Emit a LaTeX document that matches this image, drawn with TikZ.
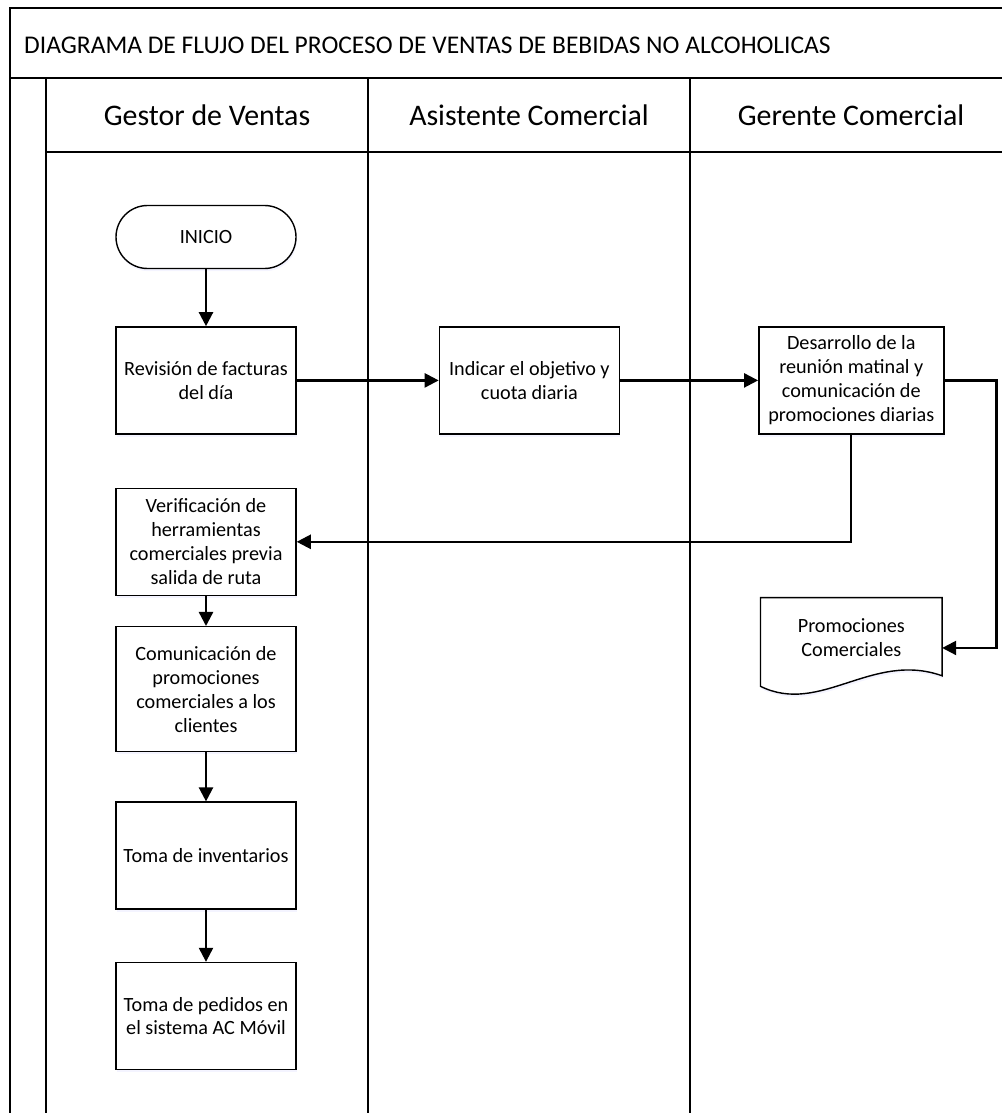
\documentclass[tikz,border=0pt]{standalone}
\usepackage{fontspec}
\setmainfont{Carlito}
\usetikzlibrary{calc, positioning, arrows.meta, shadows, backgrounds}

\begin{document}
\begin{tikzpicture}[>={Triangle[length=8pt,width=8pt]}, node distance=1cm, every node/.style={font=\fontsize{11.5}{13.6}\selectfont}]
  \tikzset{block/.style={draw, line width=0.8pt, fill=white, minimum width=3.6cm, minimum height=2.14cm, align=center, inner sep=2pt,
      drop shadow={shadow xshift=0.5pt, shadow yshift=-1.5pt, opacity=0.3, fill=blue!15}},
    term/.style={block, rounded corners=0.63cm, minimum height=1.26cm},
    flow/.style={->, line width=1.3pt},
    frame/.style={line width=1.1pt},
    lane/.style={font=\fontsize{17}{20}\selectfont}}
  \useasboundingbox (0,0) rectangle (20.04,-22.26);
  \clip (0,0) rectangle (20.04,-22.26);

  % pool and lanes
  \draw[frame] (0.2,-22.6) |- (20.6,-0.16);
  \draw[frame] (0.2,-1.56) -- (20.6,-1.56);
  \draw[frame] (0.92,-3.04) -- (20.6,-3.04);
  \foreach \x in {0.92, 7.36, 13.8}
    \draw[frame] (\x,-1.56) -- (\x,-22.6);
  \node[anchor=west, font=\fontsize{14.5}{17}\selectfont] (titulo) at (0.36,-0.9) {DIAGRAMA DE FLUJO DEL PROCESO DE VENTAS DE BEBIDAS NO ALCOHOLICAS};
  \node[lane] (gestor) at (4.14,-2.3) {Gestor de Ventas};
  \node[lane] (asist) at (10.58,-2.3) {Asistente Comercial};
  \node[lane] (gerente) at (17.02,-2.3) {Gerente Comercial};

  % steps
  \node[term] (inicio) at (4.12,-4.74) {INICIO};
  \node[block, below=1.14cm of inicio] (revision) {Revisión de facturas\\del día};
  \node[block, right=2.84cm of revision] (objetivo) {Indicar el objetivo y\\cuota diaria};
  \node[block, right=2.76cm of objetivo, minimum width=3.7cm] (reunion) {Desarrollo de la\\reunión matinal y\\comunicación de\\promociones diarias};
  \node[block, below=1.06cm of revision] (verif) {Verificación de\\herramientas\\comerciales previa\\salida de ruta};
  \node[block, below=0.6cm of verif, minimum height=2.5cm] (comunic) {Comunicación de\\promociones\\comerciales a los\\clientes};
  \node[block, below=0.98cm of comunic] (invent) {Toma de inventarios};
  \node[block, below=1.04cm of invent] (pedidos) {Toma de pedidos en\\el sistema AC Móvil};

  % document shape
  \node[minimum width=3.62cm, minimum height=2cm, text depth=0.4cm, align=center, below=3.26cm of reunion] (promo) {Promociones\\Comerciales};
  \begin{scope}[on background layer]
    \draw[line width=0.8pt, fill=white, drop shadow={shadow xshift=0.5pt, shadow yshift=-1.5pt, opacity=0.3, fill=blue!15}]
      (promo.north west) -- (promo.north east) -- ($(promo.south east)+(0,0.45)$)
      .. controls ($(promo.south east)+(-1.4,0.95)$) and ($(promo.south west)+(1.2,-0.35)$) .. ($(promo.south west)+(0,0.24)$) -- cycle;
  \end{scope}

  \draw[flow] (inicio) -- (revision);
  \draw[flow] (revision) -- (objetivo);
  \draw[flow] (objetivo) -- (reunion);
  \draw[flow] (reunion.east) -- ++(1.04,0) |- (promo.east);
  \draw[flow] (reunion.south) |- (verif.east);
  \draw[flow] (verif) -- (comunic);
  \draw[flow] (comunic) -- (invent);
  \draw[flow] (invent) -- (pedidos);
\end{tikzpicture}
\end{document}
